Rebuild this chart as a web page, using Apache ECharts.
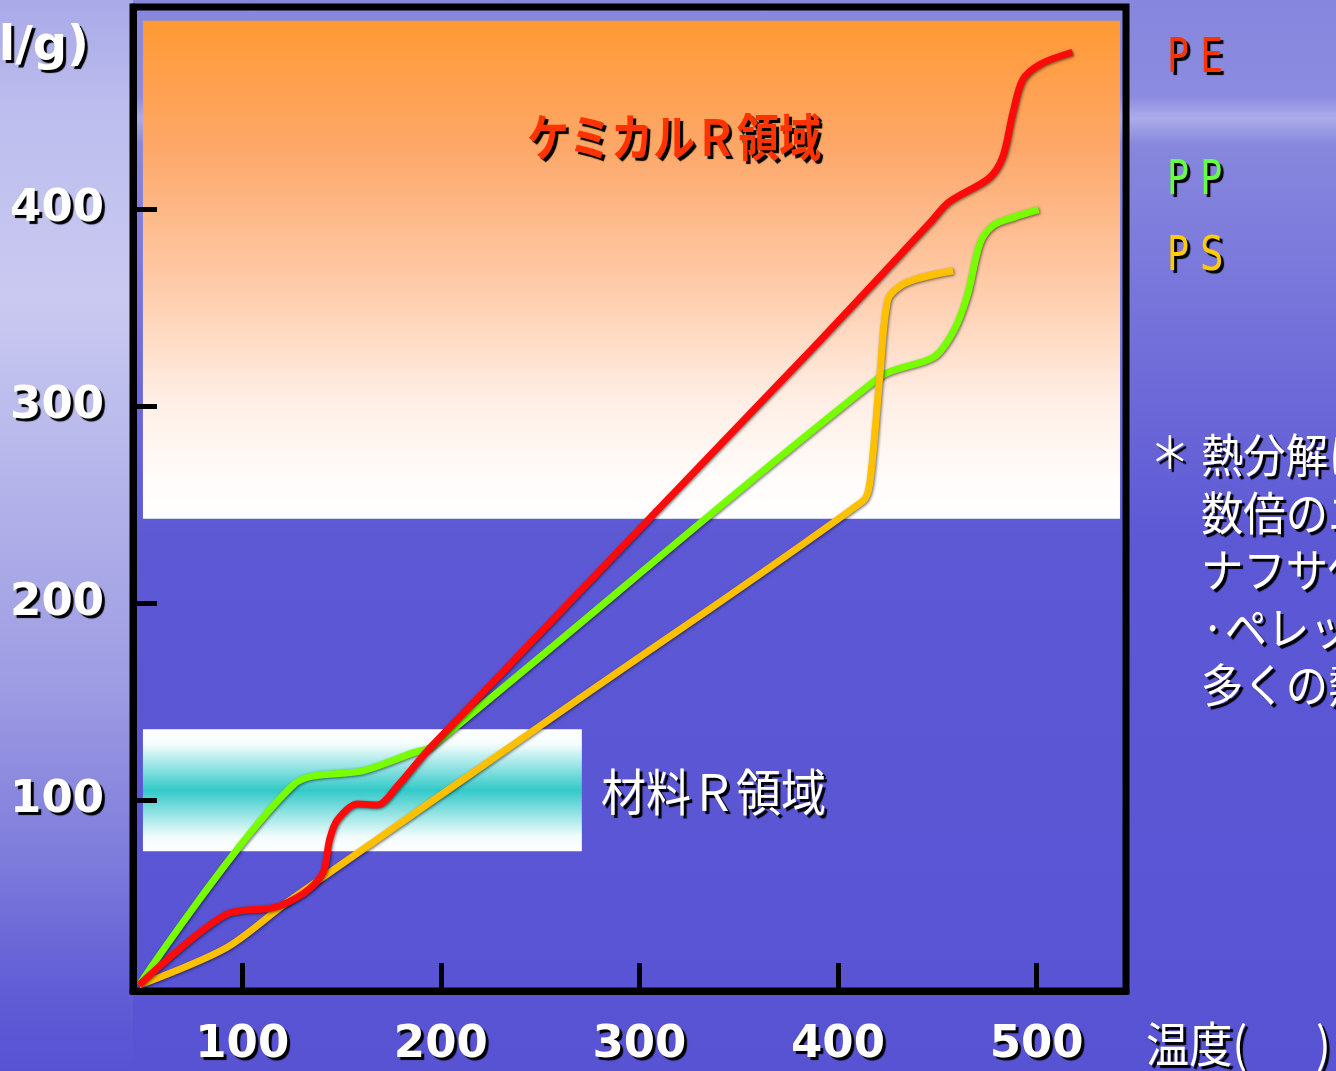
<!DOCTYPE html>
<html>
<head>
<meta charset="utf-8">
<script src="https://cdn.jsdelivr.net/npm/echarts@6/dist/echarts.min.js"></script>
<style>
  html, body { margin: 0; padding: 0; }
  #main {
    width: 1336px; height: 1071px;
    background:
      linear-gradient(180deg, #a9a9e8 0%, #bdbdee 10%, #c9c9f1 28%, #b4b4ea 45%, #9c9ae2 65%, #7e7cdb 80%, #625ed6 92%, #5753d3 100%) 0 0 / 133px 100% no-repeat,
      linear-gradient(180deg, #8686de 0%, #8b8be0 9%, #acacea 11%, #8787dd 13.5%, #7572da 30%, #5d59d5 50%, #5753d3 100%);
  }
</style>
</head>
<body>
<div id="main"></div>
<script>
// axis range and ticks
const xMin = 45, xMax = 545;
const yMin = 3, yMax = 503;
const xTicks = [100, 200, 300, 400, 500];
const yTicks = [100, 200, 300, 400];

// series: [temperature, value]
const peData = [[48, 6], [92, 42], [114, 45], [123, 48], [134, 55], [141, 64], [144, 80], [148, 90], [158, 98], [168, 97.5], [178, 107], [195, 127], [381, 323], [446, 393], [456, 404], [476, 416], [483, 427], [488, 449], [493, 466], [502, 474], [518, 480]];
const ppData = [[48, 6], [126, 108], [161, 115], [186, 124], [195, 127], [421, 315], [448, 325], [458, 338], [465, 356], [471.5, 383], [478, 392], [488, 396], [501, 400]];
const psData = [[48, 6], [92, 25], [122.5, 48], [269, 151], [412.5, 252], [416, 261], [421, 315], [425, 354], [431, 361], [440, 365], [458, 369]];

// shaded regions [[x1, y1], [x2, y2]]
const chemicalArea = [[50, 243], [542, 496]];
const materialArea = [[50, 74], [271, 136]];

const noteLines = ['熱分解には', '数倍のエネルギー', 'ナフサ化', '·ペレット化に', '多くの熱量'];

let myChart = echarts.init(document.getElementById('main'));

const shadow = { textShadowColor: '#000', textShadowBlur: 1, textShadowOffsetX: 3, textShadowOffsetY: 3 };

function txt(text, x, y, fill, font, align, scaleX) {
    return {
        type: 'text', x: x, y: y, scaleX: scaleX || 1, z: 10,
        style: Object.assign({
            text: text, fill: fill, font: font,
            align: align || 'left', verticalAlign: 'middle',
            textAlign: align || 'left', textVerticalAlign: 'middle'
        }, shadow)
    };
}

const lineShadow = { shadowColor: 'rgba(0,0,0,0.55)', shadowBlur: 3, shadowOffsetX: 1, shadowOffsetY: 1 };

const graphics = [
    txt('(kcal/g)', 89, 48, '#fff', 'bold 48px "DejaVu Sans"', 'right'),
    txt('P E', 1167, 60, '#ff3300', '48px "DejaVu Sans"', 'left', 0.75),
    txt('P P', 1167, 182, '#66ff44', '48px "DejaVu Sans"', 'left', 0.75),
    txt('P S', 1167, 258, '#ffcc00', '48px "DejaVu Sans"', 'left', 0.75),
    txt('ケミカルＲ領域', 527, 137, '#ff3300', 'bold 50px "Noto Sans CJK JP"', 'left', 0.84),
    txt('材料Ｒ領域', 601, 792, '#fff', '50px "Noto Sans CJK JP"', 'left', 0.9),
    txt('＊', 1150, 452, '#fff', '44px "Noto Sans CJK JP"', 'left', 0.9),
    txt('温度(', 1146, 1044, '#fff', '48px "Noto Sans CJK JP"', 'left', 0.9),
    txt(')', 1316, 1044, '#fff', '48px "Noto Sans CJK JP"', 'left', 0.9)
];
noteLines.forEach((s, i) => {
    graphics.push(txt(s, 1201, 455 + i * 57.5, '#fff', '46px "Noto Sans CJK JP"', 'left', 0.92));
});

let option = {
    animation: false,
    grid: {
        left: 133, right: 210, top: 7, bottom: 80,
        show: true, borderColor: '#000', borderWidth: 7, backgroundColor: 'transparent'
    },
    xAxis: {
        type: 'value', min: xMin, max: xMax, z: 6,
        splitLine: { show: false },
        axisLine: { lineStyle: { color: '#000', width: 7 } },
        axisTick: { inside: true, length: 28, customValues: xTicks, lineStyle: { color: '#000', width: 5 } },
        axisLabel: Object.assign({
            customValues: xTicks, margin: 32, color: '#fff',
            fontFamily: 'DejaVu Sans', fontWeight: 'bold', fontSize: 45
        }, shadow)
    },
    yAxis: {
        type: 'value', min: yMin, max: yMax, z: 6,
        splitLine: { show: false },
        axisLine: { lineStyle: { color: '#000', width: 7 } },
        axisTick: { inside: true, length: 24, customValues: yTicks, lineStyle: { color: '#000', width: 5 } },
        axisLabel: Object.assign({
            customValues: yTicks, margin: 29, color: '#fff',
            fontFamily: 'DejaVu Sans', fontWeight: 'bold', fontSize: 45
        }, shadow)
    },
    series: [
        {
            name: 'areas', type: 'line', data: [], z: 1, silent: true,
            markArea: {
                silent: true,
                data: [
                    [{ coord: chemicalArea[0], itemStyle: { color: {
                        type: 'linear', x: 0, y: 0, x2: 0, y2: 1,
                        colorStops: [
                            { offset: 0, color: '#ff9933' },
                            { offset: 0.26, color: '#fda86a' },
                            { offset: 0.56, color: '#fecfb0' },
                            { offset: 0.76, color: '#ffeee4' },
                            { offset: 0.92, color: '#fffcfa' },
                            { offset: 1, color: '#ffffff' }
                        ] } } }, { coord: chemicalArea[1] }],
                    [{ coord: materialArea[0], itemStyle: { color: {
                        type: 'linear', x: 0, y: 0, x2: 0, y2: 1,
                        colorStops: [
                            { offset: 0, color: '#ffffff' },
                            { offset: 0.12, color: '#f6fdfd' },
                            { offset: 0.5, color: '#33c9c9' },
                            { offset: 0.88, color: '#f2fcfc' },
                            { offset: 1, color: '#ffffff' }
                        ] } } }, { coord: materialArea[1] }]
                ]
            }
        },
        {
            name: 'PP', type: 'line', data: ppData, z: 3, smooth: 0.3, symbol: 'none',
            lineStyle: Object.assign({ color: '#77ff00', width: 7 }, lineShadow)
        },
        {
            name: 'PS', type: 'line', data: psData, z: 4, smooth: 0.3, symbol: 'none',
            lineStyle: Object.assign({ color: '#ffc000', width: 7 }, lineShadow)
        },
        {
            name: 'PE', type: 'line', data: peData, z: 5, smooth: 0.3, symbol: 'none',
            lineStyle: Object.assign({ color: '#ff0a0a', width: 7 }, lineShadow)
        }
    ],
    graphic: graphics
};
myChart.setOption(option);
</script>
</body>
</html>
